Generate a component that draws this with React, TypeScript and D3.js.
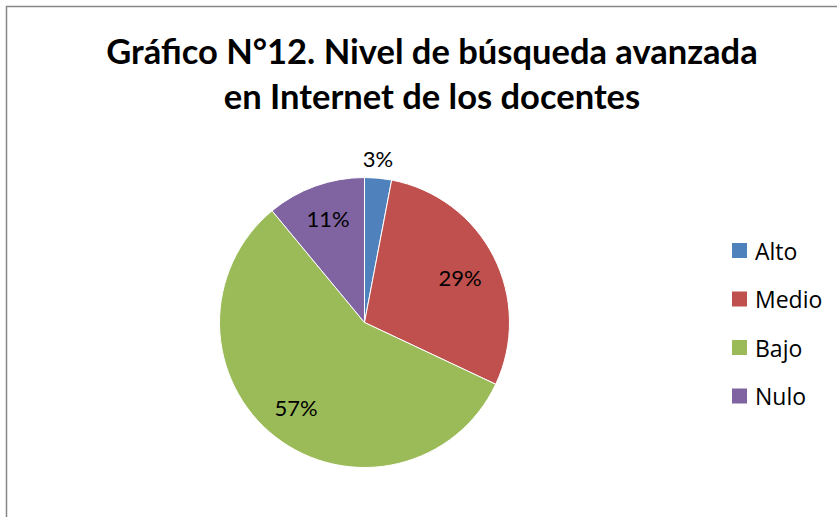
import React from "react";
import * as d3 from "d3";

const categories = ["Alto", "Medio", "Bajo", "Nulo"];
const values = [3, 29, 57, 11];
const labels = ["3%", "29%", "57%", "11%"];
const colors = ["#4F81BD", "#C0504D", "#9BBB59", "#8064A2"];
const titleLines = ["Gráfico N°12. Nivel de búsqueda avanzada", "en Internet de los docentes"];

const W = 837, H = 517;
const cx = 364.5, cy = 322.5, R = 145;
const labelPos: [number, number][] = [[378, 158], [460, 277], [296, 407], [328, 218]];

export default function App() {
  const pie = d3.pie<number>().sort(null).value((d) => d);
  const arcs = pie(values);
  const arc = d3.arc<d3.PieArcDatum<number>>().innerRadius(0).outerRadius(R);
  const font = "Lato, 'Open Sans', sans-serif";
  const legendFont = "'Open Sans', sans-serif";
  return (
    <svg width={W} height={H} style={{ position: "fixed", left: 0, top: 0, background: "#fff" }}>
      <rect x={6.5} y={6.5} width={W + 10} height={H + 10} fill="#fff" stroke="#878787" strokeWidth={1.5} />
      {titleLines.map((t, i) => (
        <text key={i} x={432} y={64 + i * 45} textAnchor="middle" fontFamily={font} fontWeight={700} fontSize={34.5} fill="#000">
          {t}
        </text>
      ))}
      <g transform={`translate(${cx},${cy})`}>
        {arcs.map((a, i) => (
          <path key={i} d={arc(a) || ""} fill={colors[i]} stroke="#fff" strokeWidth={1} />
        ))}
      </g>
      {labels.map((l, i) => (
        <text key={i} x={labelPos[i][0]} y={labelPos[i][1]} textAnchor="middle" dominantBaseline="central" fontFamily={font} fontSize={22} fill="#000">
          {l}
        </text>
      ))}
      {categories.map((c, i) => (
        <g key={c} transform={`translate(732, ${243 + i * 48.5})`}>
          <rect x={0} y={0} width={15} height={15} fill={colors[i]} />
          <text x={23} y={7.5} dominantBaseline="central" fontFamily={legendFont} fontSize={23} fill="#000">
            {c}
          </text>
        </g>
      ))}
    </svg>
  );
}
